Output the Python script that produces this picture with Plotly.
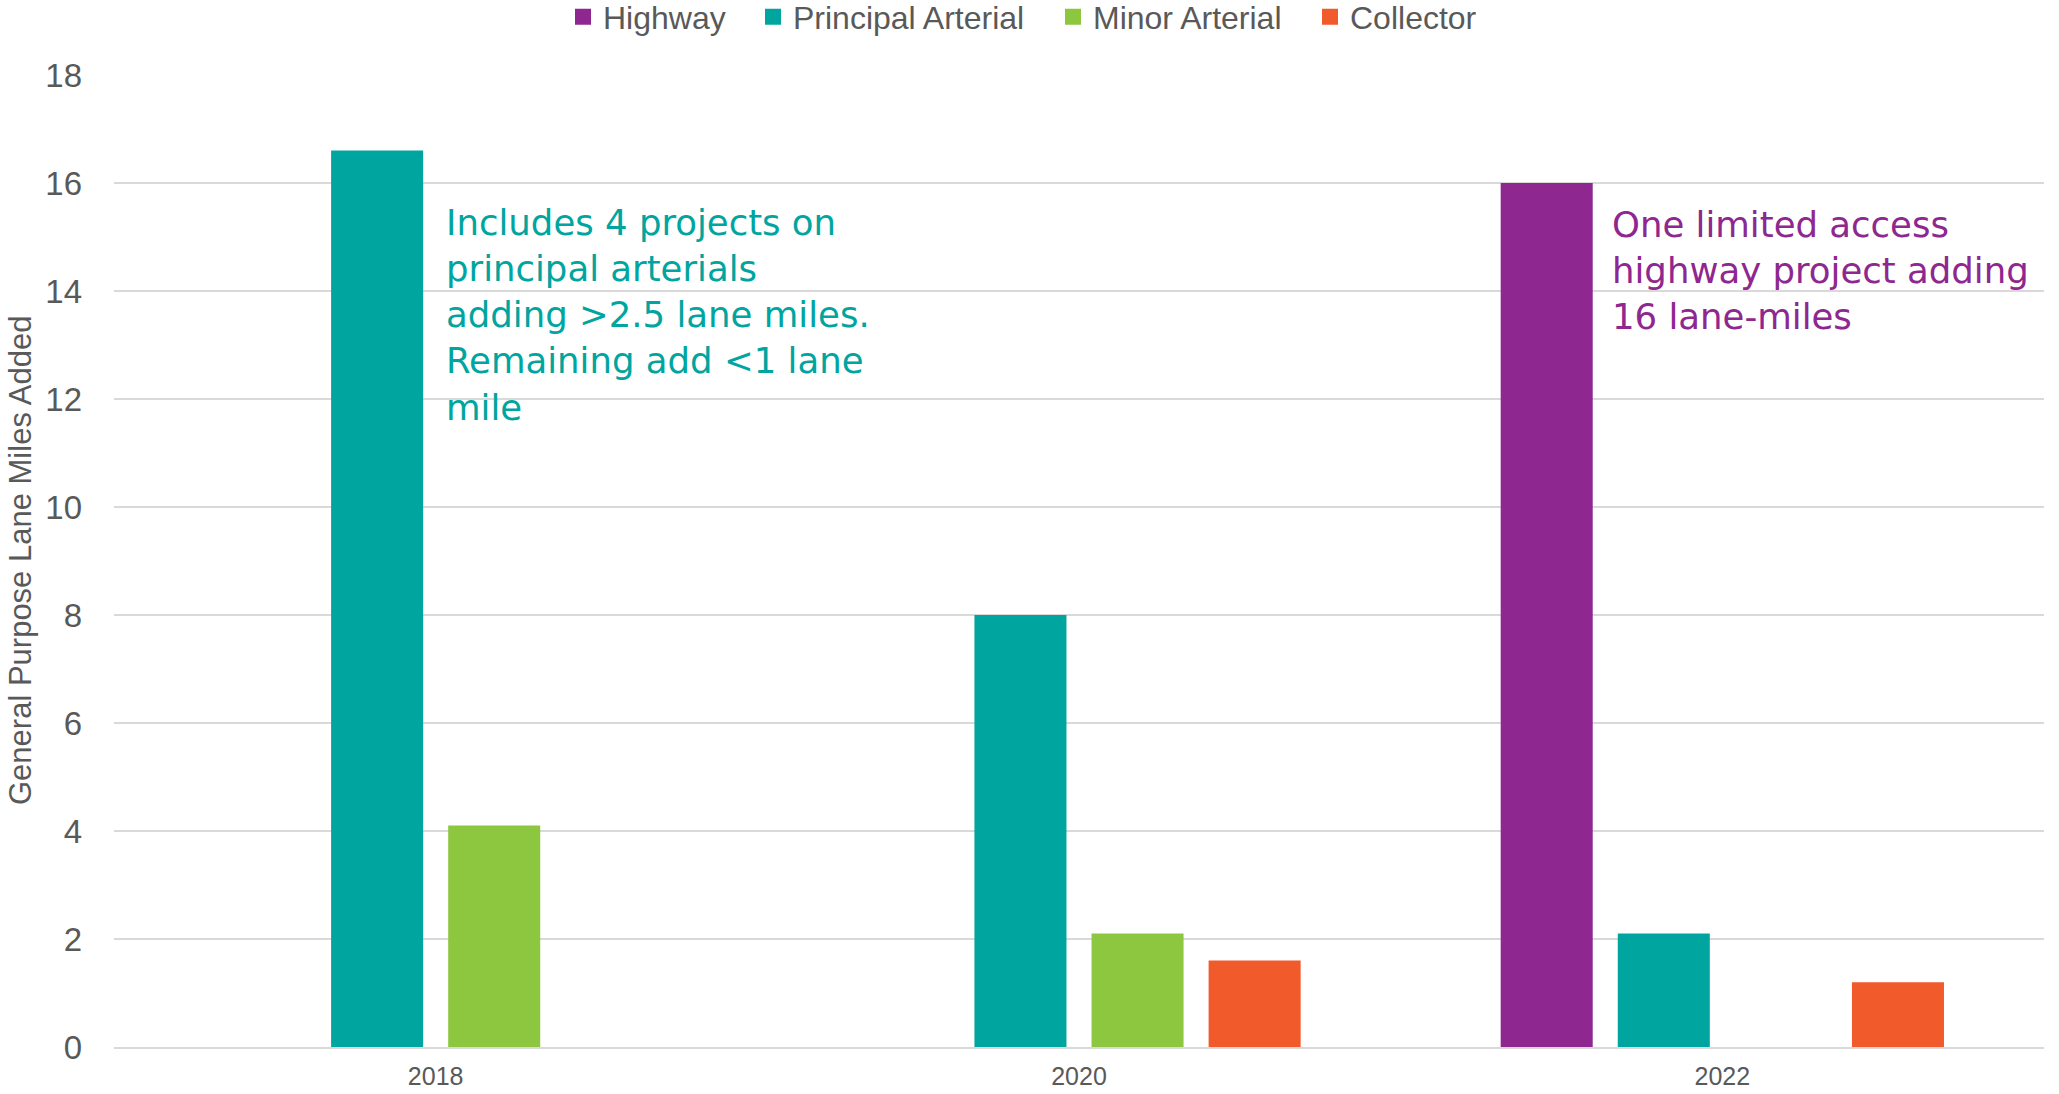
import plotly.graph_objects as go

years = ["2018", "2020", "2022"]
highway = [None, None, 16.0]
principal_arterial = [16.6, 8.0, 2.1]
minor_arterial = [4.1, 2.1, None]
collector = [None, 1.6, 1.2]

series_names = ["Highway", "Principal Arterial", "Minor Arterial", "Collector"]
series_values = [highway, principal_arterial, minor_arterial, collector]
series_colors = ["#8E278F", "#00A59F", "#8DC63F", "#F15A2B"]

y_ticks = [0, 2, 4, 6, 8, 10, 12, 14, 16, 18]
y_title = "General Purpose Lane Miles Added"

note_2018 = ("Includes 4 projects on<br>principal arterials<br>adding >2.5 lane miles.<br>"
             "Remaining add <1 lane<br>mile")
note_2022 = "One limited access<br>highway project adding<br>16 lane-miles"

W, H = 2059, 1094
ml, mr, mt, mb = 114, 15, 75, 47

# left pixel of each legend swatch (layout only)
legend_x_px = [575, 765, 1065, 1322]
legend_ids = ["legend", "legend2", "legend3", "legend4"]

fig = go.Figure()
for name, vals, col in zip(series_names, series_values, series_colors):
    fig.add_trace(go.Bar(x=years, y=vals, name=name, marker_color=col,
                         marker_line_width=0, showlegend=False, legendgroup=name))
for name, col, lid in zip(series_names, series_colors, legend_ids):
    fig.add_trace(go.Scatter(x=[None], y=[None], mode="markers", name=name,
                             legendgroup=name, legend=lid,
                             marker=dict(symbol="square", size=17, color=col)))

legend_common = dict(orientation="h", xref="container", yref="container",
                     xanchor="left", y=1 - 17 / H, yanchor="middle",
                     font=dict(size=32, color="#595959"), itemwidth=30,
                     bgcolor="rgba(0,0,0,0)")
layout_legends = {}
for lid, px in zip(legend_ids, legend_x_px):
    layout_legends[lid] = dict(legend_common, x=(px - 12) / W)

fig.update_layout(
    width=W, height=H,
    margin=dict(l=ml, r=mr, t=mt, b=mb, pad=0, autoexpand=False),
    paper_bgcolor="white", plot_bgcolor="white",
    barmode="group", bargap=0.272, bargroupgap=0.214,
    font=dict(family="Liberation Sans, Arial, sans-serif", color="#595959"),
    showlegend=True,
    **layout_legends,
)
fig.update_xaxes(showgrid=False, showline=True, linecolor="#D9D9D9", linewidth=2,
                 ticks="", tickfont=dict(size=25, color="#595959"),
                 ticklabelstandoff=6, automargin=False)
fig.update_yaxes(range=[0, 18], tickvals=y_ticks, showgrid=True, gridcolor="#D9D9D9",
                 gridwidth=1.5, zeroline=False, showline=False, ticks="",
                 tickfont=dict(size=33, color="#595959"), ticklabelstandoff=31,
                 automargin=False)

fig.add_annotation(xref="paper", yref="paper", x=(20 - ml) / (W - ml - mr), y=0.5,
                   text=y_title, textangle=-90, showarrow=False,
                   xanchor="center", yanchor="middle",
                   font=dict(size=31, color="#595959"))

fig.add_annotation(xref="paper", yref="y", x=(444 - ml) / (W - ml - mr), y=13.55,
                   text=note_2018, showarrow=False,
                   xanchor="left", yanchor="middle", align="left",
                   font=dict(family="DejaVu Sans, sans-serif", size=35.5, color="#00A59F"))
fig.add_annotation(xref="paper", yref="y", x=(1610 - ml) / (W - ml - mr), y=14.38,
                   text=note_2022, showarrow=False,
                   xanchor="left", yanchor="middle", align="left",
                   font=dict(family="DejaVu Sans, sans-serif", size=35.5, color="#8E278F"))

fig.write_html("out.html", config={"displayModeBar": False},
               post_script="document.body.style.margin='0';document.body.style.overflow='hidden';")
